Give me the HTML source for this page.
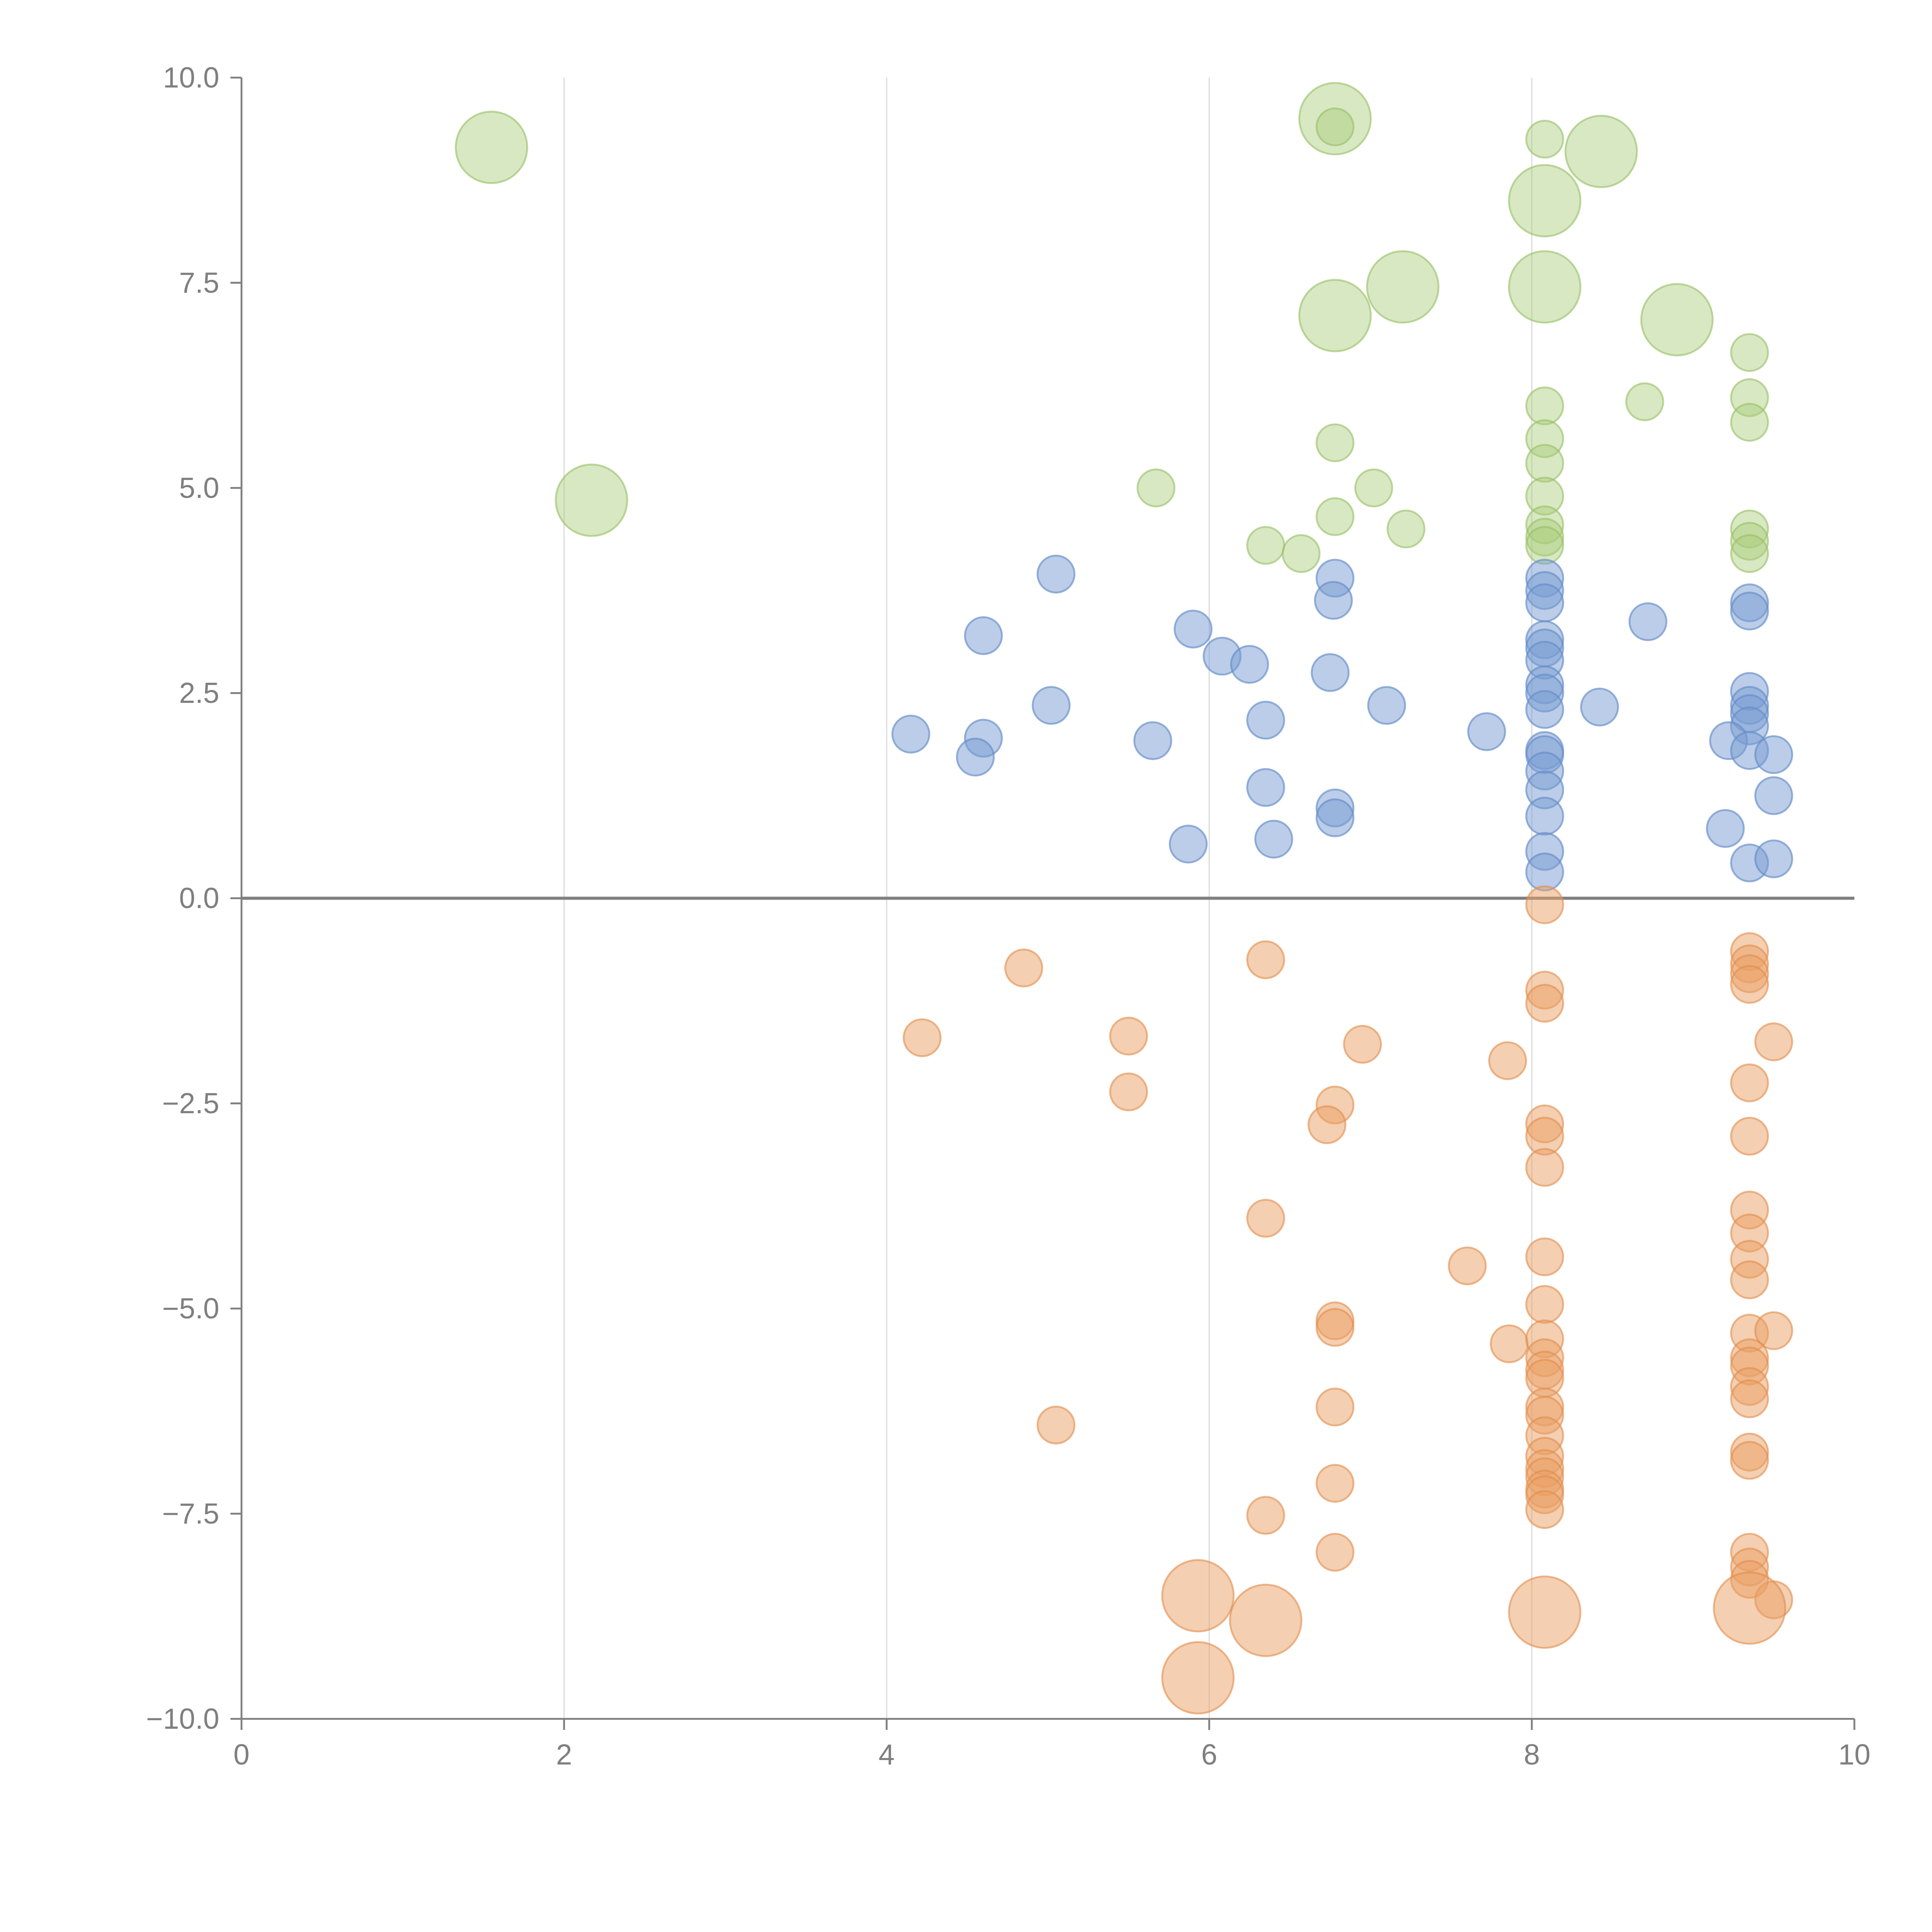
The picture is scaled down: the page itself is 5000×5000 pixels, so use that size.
<!DOCTYPE html>
<html><head><meta charset="utf-8"><style>
html,body{margin:0;padding:0;background:#fff}
svg{display:block}
text{font-family:"Liberation Sans",Arial,sans-serif;fill:#7f7f7f;font-size:23.5px}
</style></head><body>
<svg id="chart" width="5000" height="5000" viewBox="0 0 1568 1568" xmlns="http://www.w3.org/2000/svg">
<g id="grid"></g>
<g id="axes"></g>
<g id="marks"></g>
</svg>
<script>
const xTicks=[0,2,4,6,8,10];
const yTicks=[-10,-7.5,-5,-2.5,0,2.5,5,7.5,10];
const yTickLabels=["\u221210.0","\u22127.5","\u22125.0","\u22122.5","0.0","2.5","5.0","7.5","10.0"];
const greenX=[1.55,2.17,6.78,8.08,8.43,7.2,6.78,8.08,8.9,6.78,8.08,9.35,8.08,8.7,9.35,9.35,6.78,8.08,8.08,5.67,7.02,8.08,6.78,7.22,8.08,8.08,8.08,6.35,6.57,9.35,9.35,9.35];
const greenY=[9.15,4.85,9.5,8.5,9.1,7.45,7.1,7.45,7.05,9.4,9.25,6.65,6.0,6.05,6.1,5.8,5.55,5.6,5.3,5.0,5.0,4.9,4.65,4.5,4.55,4.4,4.3,4.3,4.2,4.5,4.35,4.2];
const greenSize=[2,2,2,2,2,2,2,2,2,1,1,1,1,1,1,1,1,1,1,1,1,1,1,1,1,1,1,1,1,1,1,1];
const blueX=[5.05,4.6,4.15,4.6,4.55,5.02,5.65,5.9,6.08,6.25,6.35,6.35,5.87,6.4,6.78,6.77,6.75,6.78,6.78,7.1,7.72,8.08,8.08,8.08,8.08,8.08,8.08,8.08,8.08,8.08,8.08,8.08,8.08,8.08,8.08,8.08,8.08,8.42,8.72,9.35,9.35,9.35,9.35,9.35,9.35,9.22,9.35,9.5,9.5,9.2,9.35,9.5];
const blueY=[3.95,3.2,2.0,1.95,1.72,2.35,1.92,3.28,2.95,2.85,2.17,1.35,0.66,0.72,3.9,3.63,2.75,1.1,0.98,2.35,2.03,3.9,3.75,3.6,3.15,3.05,2.9,2.6,2.5,2.3,1.8,1.75,1.55,1.32,1.0,0.57,0.32,2.33,3.37,3.6,3.5,2.52,2.35,2.25,2.1,1.92,1.8,1.75,1.25,0.85,0.43,0.48];
const orangeX=[4.85,4.22,5.5,5.5,5.05,6.35,6.35,6.35,6.95,6.78,6.73,6.78,6.78,6.78,6.78,6.78,7.6,7.85,7.86,8.08,8.08,8.08,8.08,8.08,8.08,8.08,8.08,8.08,8.08,8.08,8.08,8.08,8.08,8.08,8.08,8.08,8.08,8.08,8.08,8.08,9.35,9.35,9.35,9.35,9.5,9.35,9.35,9.35,9.35,9.35,9.35,9.35,9.5,9.35,9.35,9.35,9.35,9.35,9.35,9.35,9.35,9.35,9.5,5.93,6.35,5.93,8.08,9.35];
const orangeY=[-0.85,-1.7,-1.68,-2.36,-6.42,-0.75,-3.9,-7.52,-1.78,-2.52,-2.76,-5.15,-5.23,-6.2,-7.13,-7.97,-4.48,-1.98,-5.43,-0.08,-1.12,-1.28,-2.75,-2.9,-3.28,-4.37,-4.95,-5.37,-5.6,-5.75,-5.85,-6.2,-6.3,-6.55,-6.8,-6.95,-7.05,-7.2,-7.27,-7.45,-0.65,-0.8,-0.92,-1.05,-1.75,-2.25,-2.9,-3.8,-4.08,-4.4,-4.65,-5.3,-5.27,-5.6,-5.7,-5.95,-6.1,-6.75,-6.85,-7.97,-8.15,-8.3,-8.55,-8.5,-8.8,-9.5,-8.7,-8.65];
const orangeSize=[1,1,1,1,1,1,1,1,1,1,1,1,1,1,1,1,1,1,1,1,1,1,1,1,1,1,1,1,1,1,1,1,1,1,1,1,1,1,1,1,1,1,1,1,1,1,1,1,1,1,1,1,1,1,1,1,1,1,1,1,1,1,1,2,2,2,2,2];

const NS="http://www.w3.org/2000/svg";
const X0=196,X1=1505,Y0=1395,Y1=63;
function sx(v){return X0+(v-0)/(10-0)*(X1-X0);}
function sy(v){return Y0-(v+10)/20*(Y0-Y1);}
function mk(tag,attrs,parent){const e=document.createElementNS(NS,tag);for(const k in attrs)e.setAttribute(k,attrs[k]);parent.appendChild(e);return e;}
const grid=document.getElementById('grid'),axes=document.getElementById('axes'),marks=document.getElementById('marks');
[2,4,6,8].forEach(v=>{
  const l=mk('line',{x1:sx(v),x2:sx(v),y1:Y1,y2:Y0,stroke:'#dcdcdc','stroke-width':1},grid);
  
  
});
const za=mk('line',{x1:X0,x2:X1,y1:sy(0),y2:sy(0),stroke:'#808080','stroke-width':2.5},axes);


const xa=mk('line',{x1:X0,x2:X1,y1:Y0,y2:Y0,stroke:'#808080','stroke-width':1.5},axes);


const ya=mk('line',{x1:X0,x2:X0,y1:Y1,y2:Y0,stroke:'#808080','stroke-width':1.5},axes);


xTicks.forEach(v=>{
  mk('line',{x1:sx(v),x2:sx(v),y1:Y0,y2:Y0+9,stroke:'#808080','stroke-width':1.5},axes);
  const t=mk('text',{x:sx(v),y:Y0+37,'text-anchor':'middle'},axes);t.textContent=v;
  
  
});
yTicks.forEach((v,i)=>{
  mk('line',{x1:X0-9,x2:X0,y1:sy(v),y2:sy(v),stroke:'#808080','stroke-width':1.5},axes);
  const t=mk('text',{x:X0-18,y:sy(v)+8,'text-anchor':'end'},axes);t.textContent=yTickLabels[i];
  
  
});
function series(xs,ys,sz,fill,stroke,name){
  xs.forEach((x,i)=>{
    const r=(sz?sz[i]:1)===2?29:15;
    const c=mk('circle',{cx:sx(x),cy:sy(ys[i]),r:r,fill:fill,stroke:stroke,'stroke-width':1.5},marks);
    
    
  });
}
series(greenX,greenY,greenSize,'rgba(168,203,120,0.45)','rgba(150,190,100,0.6)','green-bubble');
series(blueX,blueY,null,'rgba(120,155,210,0.5)','rgba(100,140,200,0.65)','blue-bubble');
series(orangeX,orangeY,orangeSize,'rgba(233,160,100,0.5)','rgba(225,140,75,0.6)','orange-bubble');
</script>
</body></html>
